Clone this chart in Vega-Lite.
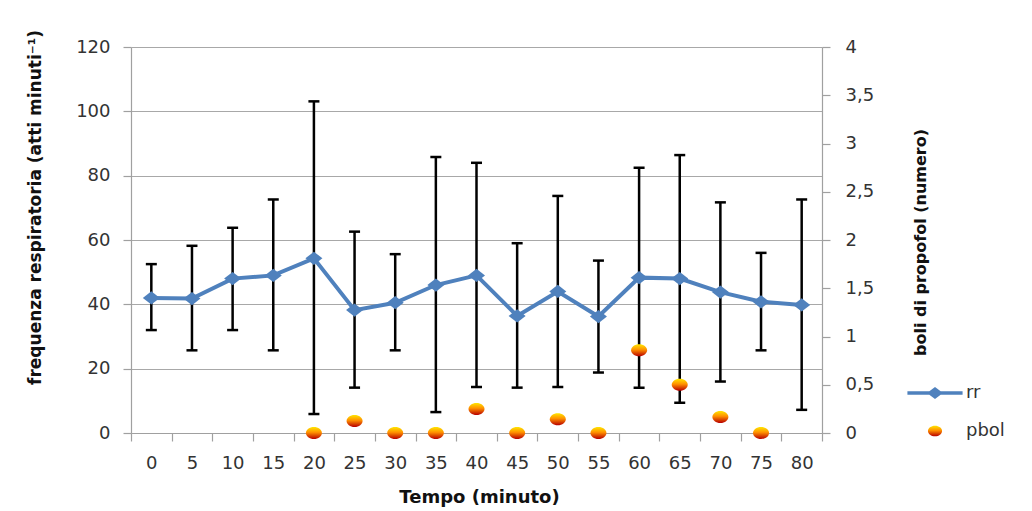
{
  "$schema": "https://vega.github.io/schema/vega-lite/v6.json",
  "width": 691,
  "height": 386,
  "autosize": {"type": "none"},
  "padding": {"left": 131, "top": 47, "right": 210, "bottom": 78},
  "background": "white",
  "config": {
    "font": "DejaVu Sans",
    "view": {"stroke": null},
    "axis": {
      "labelFont": "DejaVu Sans",
      "labelFontSize": 18,
      "labelColor": "#333333",
      "titleFont": "DejaVu Sans",
      "titleFontSize": 17,
      "titleFontWeight": "bold",
      "titleColor": "#111111",
      "domainColor": "#A0A0A0",
      "domainWidth": 1.2,
      "tickColor": "#A0A0A0",
      "tickWidth": 1.2,
      "tickSize": 8,
      "gridColor": "#A8A8A8",
      "gridWidth": 1
    }
  },
  "datasets": {
    "rr": [
      {"t": 0, "rr": 42, "lo": 32, "hi": 52.5},
      {"t": 5, "rr": 41.8, "lo": 25.7, "hi": 58.2},
      {"t": 10, "rr": 48, "lo": 32, "hi": 63.8},
      {"t": 15, "rr": 49, "lo": 25.7, "hi": 72.6},
      {"t": 20, "rr": 54.3, "lo": 5.9, "hi": 103.1},
      {"t": 25, "rr": 38.2, "lo": 14.1, "hi": 62.6},
      {"t": 30, "rr": 40.5, "lo": 25.7, "hi": 55.6},
      {"t": 35, "rr": 46, "lo": 6.5, "hi": 85.8},
      {"t": 40, "rr": 49, "lo": 14.3, "hi": 84},
      {"t": 45, "rr": 36.4, "lo": 14.1, "hi": 59},
      {"t": 50, "rr": 44, "lo": 14.3, "hi": 73.7},
      {"t": 55, "rr": 36.2, "lo": 18.8, "hi": 53.6},
      {"t": 60, "rr": 48.3, "lo": 14.1, "hi": 82.5},
      {"t": 65, "rr": 48, "lo": 9.4, "hi": 86.4},
      {"t": 70, "rr": 43.8, "lo": 16, "hi": 71.7},
      {"t": 75, "rr": 40.8, "lo": 25.7, "hi": 56},
      {"t": 80, "rr": 39.8, "lo": 7.2, "hi": 72.6}
    ],
    "pbol": [
      {"t": 20, "pbol": 0},
      {"t": 25, "pbol": 0.125},
      {"t": 30, "pbol": 0},
      {"t": 35, "pbol": 0},
      {"t": 40, "pbol": 0.25},
      {"t": 45, "pbol": 0},
      {"t": 50, "pbol": 0.143},
      {"t": 55, "pbol": 0},
      {"t": 60, "pbol": 0.857},
      {"t": 65, "pbol": 0.5},
      {"t": 70, "pbol": 0.167},
      {"t": 75, "pbol": 0}
    ]
  },
  "layer": [
    {
      "data": {"name": "rr"},
      "encoding": {
        "x": {
          "field": "t",
          "type": "ordinal",
          "title": "Tempo (minuto)",
          "scale": {"type": "band", "paddingInner": 0, "paddingOuter": 0},
          "axis": {
            "tickBand": "extent",
            "labelAngle": 0,
            "labelPadding": 13,
            "grid": false,
            "titleFontSize": 18,
            "titleX": 348,
            "titleY": 64,
            "titleBaseline": "middle",
            "titleAlign": "center"
          }
        }
      },
      "layer": [
        {
          "mark": {"type": "rule", "color": "black", "strokeWidth": 2.5},
          "encoding": {
            "y": {
              "field": "lo",
              "type": "quantitative",
              "title": "frequenza respiratoria (atti minuti⁻¹)",
              "scale": {"domain": [0, 120], "nice": false},
              "axis": {
                "values": [0, 20, 40, 60, 80, 100, 120],
                "grid": true,
                "labelPadding": 13,
                "titleAngle": 270,
                "titleX": -96,
                "titleY": 160,
                "titleAlign": "center",
                "titleBaseline": "middle"
              }
            },
            "y2": {"field": "hi"}
          }
        },
        {
          "mark": {"type": "tick", "color": "black", "thickness": 2.5, "size": 11, "opacity": 1},
          "encoding": {"y": {"field": "lo", "type": "quantitative", "title": "frequenza respiratoria (atti minuti⁻¹)"}}
        },
        {
          "mark": {"type": "tick", "color": "black", "thickness": 2.5, "size": 11, "opacity": 1},
          "encoding": {"y": {"field": "hi", "type": "quantitative", "title": "frequenza respiratoria (atti minuti⁻¹)"}}
        },
        {
          "mark": {"type": "line", "color": "#4F81BD", "strokeWidth": 4},
          "encoding": {"y": {"field": "rr", "type": "quantitative", "title": "frequenza respiratoria (atti minuti⁻¹)"}}
        },
        {
          "mark": {"type": "point", "filled": true, "opacity": 1, "color": "#4F81BD", "shape": "M0,-0.78L1,0L0,0.78L-1,0Z", "size": 289},
          "encoding": {"y": {"field": "rr", "type": "quantitative", "title": "frequenza respiratoria (atti minuti⁻¹)"}}
        }
      ]
    },
    {
      "data": {"name": "pbol"},
      "mark": {
        "type": "point",
        "filled": true,
        "opacity": 1,
        "size": 256,
        "strokeWidth": 0,
        "fill": {
          "gradient": "linear",
          "x1": 0, "y1": 0, "x2": 0, "y2": 1,
          "stops": [
            {"offset": 0, "color": "#FFE600"},
            {"offset": 0.45, "color": "#FF9000"},
            {"offset": 1, "color": "#B80000"}
          ]
        }
      },
      "encoding": {
        "x": {"field": "t", "type": "ordinal", "title": "Tempo (minuto)"},
        "y": {
          "field": "pbol",
          "type": "quantitative",
          "title": "boli di propofol (numero)",
          "scale": {"domain": [0, 4], "nice": false},
          "axis": {
            "orient": "right",
            "values": [0, 0.5, 1, 1.5, 2, 2.5, 3, 3.5, 4],
            "labelExpr": "replace(format(datum.value, '~g'), '.', ',')",
            "grid": false,
            "labelPadding": 15,
            "titleFontSize": 16,
            "titleAngle": 270,
            "titleX": 98,
            "titleY": 195,
            "titleAlign": "center",
            "titleBaseline": "middle"
          }
        },
        "shape": {
          "datum": "pbol",
          "scale": {
            "domain": ["rr", "pbol"],
            "range": [
              "M-3.9,-0.25H3.9V0.25H-3.9Z M0,-0.85L1.13,0L0,0.85L-1.13,0Z",
              "M-1,0A1,0.75 0 1,0 1,0A1,0.75 0 1,0 -1,0Z"
            ]
          },
          "legend": {
            "orient": "none",
            "legendX": 795,
            "legendY": 337,
            "title": null,
            "padding": 0,
            "symbolSize": 200,
            "symbolStrokeWidth": 0,
            "labelOffset": 22,
            "rowPadding": 20,
            "labelFont": "DejaVu Sans",
            "labelFontSize": 18,
            "labelColor": "#333333",
            "encoding": {
              "symbols": {
                "fill": {"value": {"expr": "datum.value === 'rr' ? '#4F81BD' : {gradient: 'linear', x1: 0, y1: 0, x2: 0, y2: 1, stops: [{offset: 0, color: '#FFE600'}, {offset: 0.45, color: '#FF9000'}, {offset: 1, color: '#B80000'}]}"}},
                "opacity": {"value": 1}
              }
            }
          }
        }
      }
    }
  ],
  "resolve": {"scale": {"y": "independent"}}
}
